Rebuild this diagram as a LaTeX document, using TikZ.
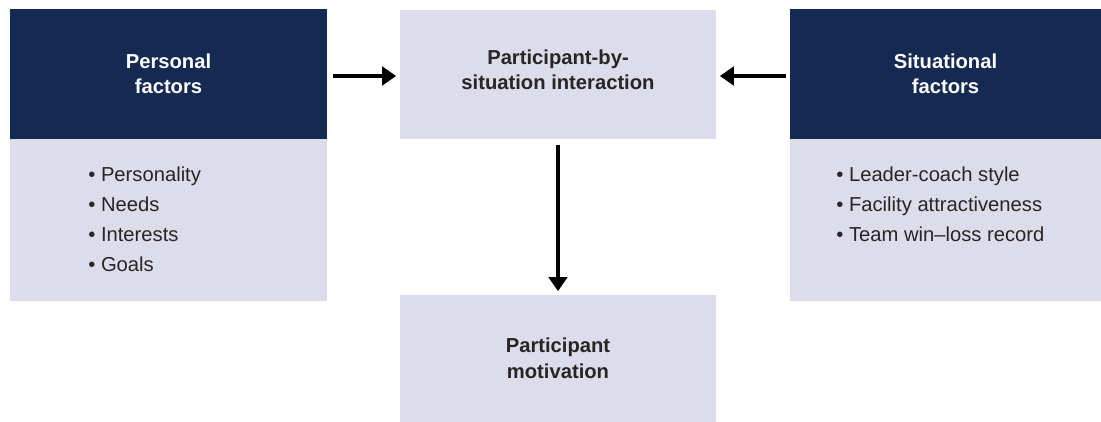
\documentclass[tikz,border=0pt]{standalone}
\usepackage{fontspec}
\setmainfont{Liberation Sans}
\usetikzlibrary{arrows.meta}

\definecolor{navy}{HTML}{142A52}
\definecolor{lavender}{HTML}{DCDCEA}
\definecolor{inktext}{HTML}{262626}

\tikzset{
  darkbox/.style={fill=navy, text=white, font=\bfseries\fontsize{11.5}{14.5}\selectfont,
    align=center, inner sep=0pt},
  lightbox/.style={fill=lavender, text=inktext, font=\bfseries\fontsize{11.5}{14.5}\selectfont,
    align=center, inner sep=0pt},
  listtext/.style={text=inktext, font=\fontsize{11.5}{17}\selectfont, align=left, inner sep=0pt},
  flow/.style={line width=2.3pt, -{Triangle[length=8pt,width=10.5pt]}}
}

\begin{document}
\begin{tikzpicture}[x=0.02cm, y=0.02cm]
	\useasboundingbox (0,0) rectangle (1101,422);
	% personal factors column
	\node[darkbox, minimum width=6.34cm, minimum height=2.6cm] (pers) at (168.5,348) {Personal\\factors};
	\node[lightbox, minimum width=6.34cm, minimum height=3.24cm] (perslist) at (168.5,202) {};
	\node[listtext, anchor=north west] (persitems) at (88,255)
		{\textbullet\ Personality\\\textbullet\ Needs\\\textbullet\ Interests\\\textbullet\ Goals};
	% situational factors column
	\node[darkbox, minimum width=6.22cm, minimum height=2.6cm] (situ) at (945.5,348) {Situational\\factors};
	\node[lightbox, minimum width=6.22cm, minimum height=3.24cm] (situlist) at (945.5,202) {};
	\node[listtext, anchor=north west] (situitems) at (836,255)
		{\textbullet\ Leader-coach style\\\textbullet\ Facility attractiveness\\\textbullet\ Team win--loss record};
	% interaction and outcome
	\node[lightbox, minimum width=6.32cm, minimum height=2.58cm] (inter) at (558,347.5) {};
	\node[lightbox, fill=none] (intertext) at (558,352) {Participant-by-\\situation interaction};
	\node[lightbox, minimum width=6.32cm, minimum height=2.54cm] (motiv) at (558,63.5)
		{Participant\\motivation};
	% arrows
	\draw[flow, shorten <=3pt, shorten >=2pt] (pers.east |- 0,346) -- (inter.west |- 0,346);
	\draw[flow, shorten <=2pt, shorten >=2pt] (situ.west |- 0,346) -- (inter.east |- 0,346);
	\draw[flow, shorten <=3pt, shorten >=2pt] (inter.south) -- (motiv.north);
\end{tikzpicture}
\end{document}
